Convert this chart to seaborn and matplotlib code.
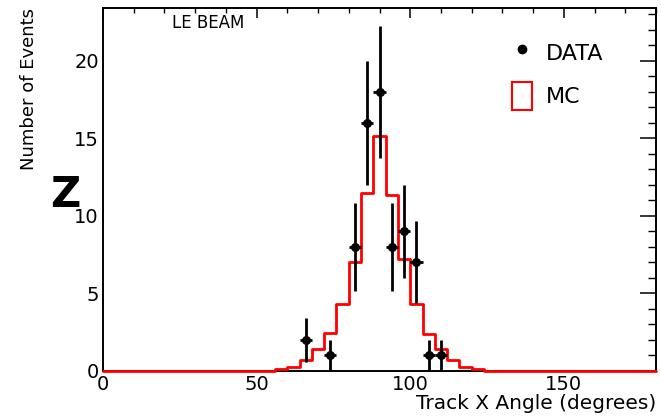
import numpy as np
import pandas as pd
import matplotlib
matplotlib.use("Agg")
import matplotlib.pyplot as plt
import seaborn as sns
from matplotlib.lines import Line2D
from matplotlib.patches import Patch
from matplotlib.ticker import MultipleLocator

# Binning: 4-degree bins over the full 0-180 degree range
bin_width = 4
bin_edges = np.arange(0, 180 + bin_width, bin_width)

# MC prediction: low edge of each non-empty bin and its (normalised) content
mc_low_edges = [56, 60, 64, 68, 72, 76, 80, 84, 88, 92, 96, 100, 104, 108, 112, 116, 120]
mc_counts = [0.1, 0.25, 0.7, 1.45, 2.45, 4.35, 7.0, 11.45, 15.15, 11.35, 7.25, 4.3, 2.4, 1.4, 0.7, 0.25, 0.1]

# Data: bin centres and number of events
data_angles = [66, 74, 82, 86, 90, 94, 98, 102, 106, 110]
data_counts = [2, 1, 8, 16, 18, 8, 9, 7, 1, 1]

# Axis ticks
x_ticks = [0, 50, 100, 150]
y_ticks = [0, 5, 10, 15, 20]

mc = pd.DataFrame({"angle": np.array(mc_low_edges, dtype=float) + bin_width / 2,
                   "weight": mc_counts})
data = pd.DataFrame({"angle": data_angles, "events": data_counts})

sns.set_style("white")
plt.rcParams["font.family"] = ["DejaVu Sans"]
plt.rcParams.update({"text.color": "black", "axes.labelcolor": "black",
                     "xtick.color": "black", "ytick.color": "black"})

fig = plt.figure(figsize=(6.61, 4.17), dpi=100)
ax = fig.add_axes([103 / 661, 1 - 371 / 417, 553 / 661, 363 / 417])

sns.histplot(data=mc, x="angle", weights="weight", bins=list(bin_edges),
             element="step", fill=False, color="#ff0000", linewidth=2.0,
             ax=ax, zorder=3, clip_on=False)

data_err = np.sqrt(data["events"].to_numpy())
ax.errorbar(data["angle"], data["events"], yerr=data_err, xerr=bin_width / 2,
            fmt="none", ecolor="black", elinewidth=2.0, capsize=0, zorder=4)
sns.scatterplot(data=data, x="angle", y="events", color="black", s=42,
                edgecolor="black", linewidth=0, ax=ax, zorder=5)

ax.set_xlim(0, 180)
ax.set_ylim(0, 23.4)
ax.set_xticks(x_ticks)
ax.set_yticks(y_ticks)
ax.xaxis.set_minor_locator(MultipleLocator(10))
ax.yaxis.set_minor_locator(MultipleLocator(1))

ax.tick_params(which="both", direction="in", top=True, right=True,
               color="black", labelcolor="black", labelsize=14, pad=3)
ax.tick_params(axis="x", which="major", length=7.5, width=1.1)
ax.tick_params(axis="x", which="minor", length=3.8, width=1.0)
ax.tick_params(axis="y", which="major", length=11.5, width=1.1)
ax.tick_params(axis="y", which="minor", length=6.0, width=1.0)

for sp in ax.spines.values():
    sp.set_color("black")
    sp.set_linewidth(1.4)

ax.set_xlabel("Track X Angle (degrees)", loc="right", fontsize=14.5)
ax.xaxis.set_label_coords(1.0, -0.062)
ax.set_ylabel("Number of Events", loc="top", fontsize=13)
ax.yaxis.set_label_coords(-0.117, 1.0)

ax.text(0.125, 0.958, "LE BEAM", transform=ax.transAxes, fontsize=12,
        ha="left", va="center")

handles = [
    Line2D([], [], marker="o", ls="none", color="black", ms=6),
    Patch(facecolor="white", edgecolor="#ff0000", linewidth=1.5),
]
ax.legend(handles, ["DATA", "MC"], loc="upper left", bbox_to_anchor=(0.740, 0.915),
          frameon=False, fontsize=16, handlelength=0.9, handleheight=1.55,
          handletextpad=0.6, labelspacing=0.7, borderpad=0, borderaxespad=0)

fig.text(65 / 661, 1 - 195 / 417, "Z", fontsize=30, fontweight="heavy",
         ha="center", va="center")

fig.savefig("out.png", dpi=100)
